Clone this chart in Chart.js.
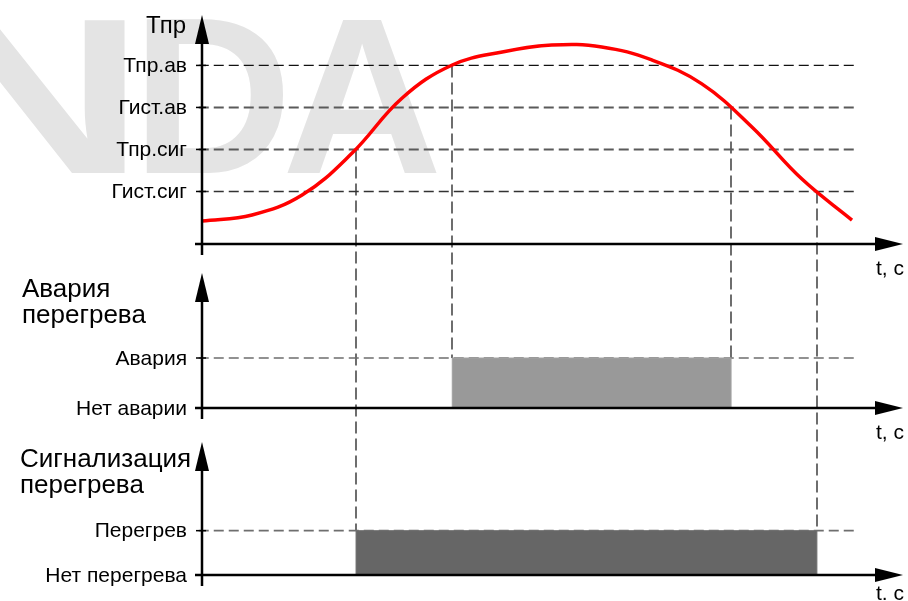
<!DOCTYPE html>
<html>
<head>
<meta charset="utf-8">
<script src="https://cdn.jsdelivr.net/npm/chart.js@4.4.1/dist/chart.umd.min.js"></script>
<style>
    html, body { margin: 0; padding: 0; background: #fff; }
    canvas { display: block; }
</style>
</head>
<body>
<canvas id="myChart" width="908" height="601"></canvas>
<script>
// time runs 0..100 (arbitrary units), temperature in arbitrary units
const tempTime  = [0, 7.7, 15.4, 23.1, 30.8, 38.5, 46.2, 53.8, 61.5, 69.2, 76.9, 84.6, 92.3, 100];
const tempValue = [1.09, 1.38, 2.33, 4.33, 6.95, 8.52, 9.14, 9.47, 9.38, 8.76, 7.62, 5.57, 3.09, 1.14];

const tempLevels = [2.5, 4.5, 6.5, 8.5];
const tempLabels = ['Гист.сиг', 'Тпр.сиг', 'Гист.ав', 'Тпр.ав'];

const alarmTime   = [0, 38.5, 81.4];
const alarmState  = [0, 1, 0];
const alarmLabels = ['Нет аварии', 'Авария'];

const signalTime   = [0, 23.7, 94.6];
const signalState  = [0, 1, 0];
const signalLabels = ['Нет перегрева', 'Перегрев'];

// moments where the curve crosses a threshold, and which panel the guide drops to
const switchTime  = [23.7, 38.5, 81.4, 94.6];
const switchLevel = [4.5, 8.5, 6.5, 2.5];
const switchPanel = ['yS', 'yA', 'yA', 'yS'];

// vertical placement of the three panels (pixels)
const panelBox = {
    yT: {top: 15, bottom: 244},
    yA: {top: 273, bottom: 408},
    yS: {top: 442, bottom: 575}
};

const FONT = '"Liberation Sans", Arial, sans-serif';

function pts(xs, ys) {
    return xs.map((x, i) => ({x: x, y: ys[i]}));
}

function dashLine(y, axis, color, width) {
    return {
        data: [{x: -0.5, y: y}, {x: 100.8, y: y}],
        yAxisID: axis,
        borderColor: color,
        borderWidth: width,
        borderDash: [10, 5],
        order: 2
    };
}

const panelPlugin = {
    id: 'panels',
    afterLayout(chart) {
        for (const id in panelBox) {
            const s = chart.scales[id];
            s.top = panelBox[id].top;
            s.bottom = panelBox[id].bottom;
            s.height = s.bottom - s.top;
            s.configure();
        }
    },
    beforeDraw(chart) {
        // faint watermark behind the drawing
        const ctx = chart.ctx;
        ctx.save();
        ctx.fillStyle = '#e4e4e4';
        ctx.font = 'bold 222px ' + FONT;
        ctx.textBaseline = 'alphabetic';
        ctx.save();
        ctx.translate(-79, 0);
        ctx.scale(1.4, 1);
        ctx.fillText('N', 0, 173);
        ctx.restore();
        ctx.fillText('D', 132, 173);
        ctx.fillText('A', 282, 173);
        ctx.restore();
    },
    beforeDatasetsDraw(chart) {
        const ctx = chart.ctx;
        const x = chart.scales.x;
        const yT = chart.scales.yT;
        ctx.save();
        ctx.strokeStyle = '#4a4a4a';
        ctx.lineWidth = 1.6;
        ctx.setLineDash([12, 5]);
        switchTime.forEach((t, i) => {
            const px = Math.round(x.getPixelForValue(t));
            const target = chart.scales[switchPanel[i]];
            ctx.beginPath();
            ctx.moveTo(px, yT.getPixelForValue(switchLevel[i]));
            ctx.lineTo(px, target.getPixelForValue(1));
            ctx.stroke();
        });
        ctx.restore();
    },
    afterDatasetsDraw(chart) {
        const ctx = chart.ctx;
        const xs = chart.scales.x;
        const x0 = xs.getPixelForValue(0);
        const xEnd = 903;
        const panels = [
            {id: 'yT', levels: tempLevels, labels: tempLabels, tick: 't, c'},
            {id: 'yA', levels: [0, 1], labels: alarmLabels, tick: 't, c'},
            {id: 'yS', levels: [0, 1], labels: signalLabels, tick: 't. c'}
        ];
        ctx.save();
        ctx.fillStyle = '#000';
        ctx.strokeStyle = '#000';
        panels.forEach(p => {
            const ys = chart.scales[p.id];
            const base = ys.getPixelForValue(0);
            const top = ys.top;
            // axes
            ctx.lineWidth = 2.5;
            ctx.beginPath();
            ctx.moveTo(x0, top + 20);
            ctx.lineTo(x0, base + 11);
            ctx.moveTo(x0 - 7, base);
            ctx.lineTo(xEnd - 20, base);
            ctx.stroke();
            // arrow heads
            ctx.beginPath();
            ctx.moveTo(x0, top);
            ctx.lineTo(x0 - 7, top + 29);
            ctx.lineTo(x0 + 7, top + 29);
            ctx.closePath();
            ctx.fill();
            ctx.beginPath();
            ctx.moveTo(xEnd, base);
            ctx.lineTo(xEnd - 28, base - 7);
            ctx.lineTo(xEnd - 28, base + 7);
            ctx.closePath();
            ctx.fill();
            // ticks and labels
            ctx.lineWidth = 1.5;
            ctx.font = '21px ' + FONT;
            ctx.textAlign = 'right';
            ctx.textBaseline = 'middle';
            p.levels.forEach((v, i) => {
                const py = ys.getPixelForValue(v);
                ctx.beginPath();
                ctx.moveTo(x0 - 6, py);
                ctx.lineTo(x0 + 4, py);
                ctx.stroke();
                ctx.fillText(p.labels[i], x0 - 15, py + 1);
            });
            // time label
            ctx.textAlign = 'left';
            ctx.textBaseline = 'alphabetic';
            ctx.fillText(p.tick, 876, Math.min(base + 31, 600));
        });
        // panel titles
        ctx.textBaseline = 'alphabetic';
        ctx.font = '24px ' + FONT;
        ctx.textAlign = 'right';
        ctx.fillText('Тпр', 186, 33);
        ctx.font = '26px ' + FONT;
        ctx.textAlign = 'left';
        ctx.fillText('Авария', 22, 297);
        ctx.fillText('перегрева', 22, 323);
        ctx.fillText('Сигнализация', 20, 467);
        ctx.fillText('перегрева', 20, 493);
        ctx.restore();
    }
};

const ctx = document.getElementById('myChart').getContext('2d');
const myChart = new Chart(ctx, {
    type: 'line',
    data: {
        datasets: [
            {
                label: 'Тпр',
                data: pts(tempTime, tempValue),
                yAxisID: 'yT',
                borderColor: '#ff0000',
                borderWidth: 3.5,
                tension: 0.4,
                order: 0
            },
            {
                label: 'Авария',
                data: pts(alarmTime, alarmState),
                yAxisID: 'yA',
                stepped: true,
                fill: 'origin',
                backgroundColor: '#999999',
                borderColor: '#a3a3a3',
                borderWidth: 1,
                order: 1
            },
            {
                label: 'Перегрев',
                data: pts(signalTime, signalState),
                yAxisID: 'yS',
                stepped: true,
                fill: 'origin',
                backgroundColor: '#666666',
                borderColor: '#707070',
                borderWidth: 1,
                order: 1
            },
            dashLine(tempLevels[3], 'yT', '#111', 1.3),
            dashLine(tempLevels[2], 'yT', '#5a5a5a', 2),
            dashLine(tempLevels[1], 'yT', '#5a5a5a', 2),
            dashLine(tempLevels[0], 'yT', '#333', 1.6),
            dashLine(1, 'yA', '#6e6e6e', 1.7),
            dashLine(1, 'yS', '#6e6e6e', 1.7)
        ]
    },
    options: {
        responsive: false,
        animation: false,
        events: [],
        clip: false,
        elements: {
            point: { radius: 0 }
        },
        layout: {
            padding: { left: 202, right: 56, top: 0, bottom: 0 }
        },
        plugins: {
            legend: { display: false },
            tooltip: { enabled: false }
        },
        scales: {
            x:  { type: 'linear', min: 0, max: 100, display: false },
            yT: { type: 'linear', min: 0, max: 10.9, display: false },
            yA: { type: 'linear', min: 0, max: 2.7, display: false },
            yS: { type: 'linear', min: 0, max: 3, display: false }
        }
    },
    plugins: [panelPlugin]
});
</script>
</body>
</html>
